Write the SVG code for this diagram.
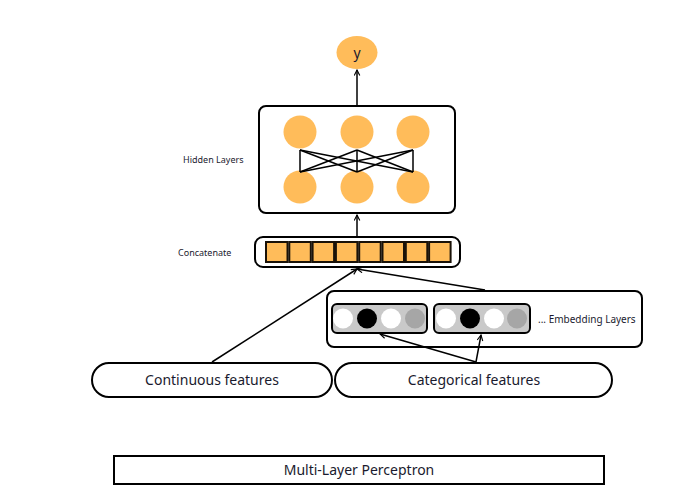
<svg xmlns="http://www.w3.org/2000/svg" width="686" height="501" viewBox="0 0 686 501">
<defs>
<style>
.box{fill:#fff;stroke:#000;stroke-width:2}
.or{fill:#ffbc5a}
.cell{fill:#ffbc5a;stroke:#1a1208;stroke-width:2}
.emb{fill:#c9c9c9;stroke:#000;stroke-width:2}
.ln{stroke:#000;stroke-width:1.5;fill:none}
.t{font-family:"Noto Sans","Open Sans",sans-serif;fill:#1a1a2e}
</style>
<marker id="ah" viewBox="0 0 10 10" refX="9" refY="5" markerWidth="7" markerHeight="7" orient="auto" markerUnits="userSpaceOnUse">
<path d="M1,1 L9,5 L1,9" fill="none" stroke="#000" stroke-width="1.6"/>
</marker>
</defs>
<rect width="686" height="501" fill="#fff"/>

<g id="output-y">
<ellipse class="or" cx="357" cy="52.5" rx="20.5" ry="16.5"/>
<text class="t" x="357" y="57.5" font-size="14" text-anchor="middle">y</text>
</g>

<g id="hidden-layers">
<rect class="box" x="259" y="106" width="196" height="107" rx="7"/>
<circle class="or" cx="300" cy="132" r="16.5"/>
<circle class="or" cx="357" cy="132" r="16.5"/>
<circle class="or" cx="413" cy="132" r="16.5"/>
<circle class="or" cx="300" cy="187" r="16.5"/>
<circle class="or" cx="357" cy="187" r="16.5"/>
<circle class="or" cx="413" cy="187" r="16.5"/>
<g class="ln">
<line x1="300" y1="150" x2="300" y2="172"/>
<line x1="300" y1="150" x2="357" y2="172"/>
<line x1="300" y1="150" x2="413" y2="172"/>
<line x1="357" y1="150" x2="300" y2="172"/>
<line x1="357" y1="150" x2="357" y2="172"/>
<line x1="357" y1="150" x2="413" y2="172"/>
<line x1="413" y1="150" x2="300" y2="172"/>
<line x1="413" y1="150" x2="357" y2="172"/>
<line x1="413" y1="150" x2="413" y2="172"/>
</g>
<text class="t" x="183" y="162.5" font-size="9">Hidden Layers</text>
</g>

<g id="concatenate">
<rect class="box" x="255" y="237" width="205" height="30" rx="8"/>
<rect class="cell" x="266" y="242" width="21.5" height="20"/>
<rect class="cell" x="289.3" y="242" width="21.5" height="20"/>
<rect class="cell" x="312.6" y="242" width="21.5" height="20"/>
<rect class="cell" x="335.9" y="242" width="21.5" height="20"/>
<rect class="cell" x="359.2" y="242" width="21.5" height="20"/>
<rect class="cell" x="382.5" y="242" width="21.5" height="20"/>
<rect class="cell" x="405.8" y="242" width="21.5" height="20"/>
<rect class="cell" x="429.1" y="242" width="21.5" height="20"/>
<text class="t" x="178" y="255.5" font-size="9">Concatenate</text>
</g>

<g id="embedding-layers">
<rect class="box" x="327" y="291" width="315" height="56" rx="7"/>
<rect class="emb" x="332" y="304" width="95" height="29" rx="5"/>
<circle cx="343" cy="318.5" r="10" fill="#fff"/>
<circle cx="367" cy="318.5" r="10" fill="#000"/>
<circle cx="391" cy="318.5" r="10" fill="#fff"/>
<circle cx="415" cy="318.5" r="10" fill="#a6a6a6"/>
<rect class="emb" x="434" y="304" width="96" height="29" rx="5"/>
<circle cx="446" cy="318.5" r="10" fill="#fff"/>
<circle cx="470" cy="318.5" r="10" fill="#000"/>
<circle cx="494" cy="318.5" r="10" fill="#fff"/>
<circle cx="517" cy="318.5" r="10" fill="#a6a6a6"/>
<text class="t" x="538" y="323" font-size="10">... Embedding Layers</text>
</g>

<g id="continuous-features">
<rect class="box" x="92" y="363" width="240" height="34" rx="17"/>
<text class="t" x="212" y="385" font-size="14" text-anchor="middle">Continuous features</text>
</g>

<g id="categorical-features">
<rect class="box" x="335" y="363" width="277" height="34" rx="17"/>
<text class="t" x="474" y="385" font-size="14" text-anchor="middle">Categorical features</text>
</g>

<g id="title">
<rect class="box" x="114" y="456" width="490" height="28"/>
<text class="t" x="359" y="475" font-size="14" text-anchor="middle">Multi-Layer Perceptron</text>
</g>

<g id="connectors">
<line class="ln" x1="357" y1="105" x2="357" y2="70" marker-end="url(#ah)"/>
<line class="ln" x1="357" y1="236" x2="357" y2="215" marker-end="url(#ah)"/>
<line class="ln" x1="212" y1="362" x2="357" y2="269" marker-end="url(#ah)"/>
<line class="ln" x1="485" y1="290" x2="357" y2="269" marker-end="url(#ah)"/>
<line class="ln" x1="476" y1="362" x2="380" y2="334" marker-end="url(#ah)"/>
<line class="ln" x1="476" y1="362" x2="481" y2="335" marker-end="url(#ah)"/>
</g>
</svg>
